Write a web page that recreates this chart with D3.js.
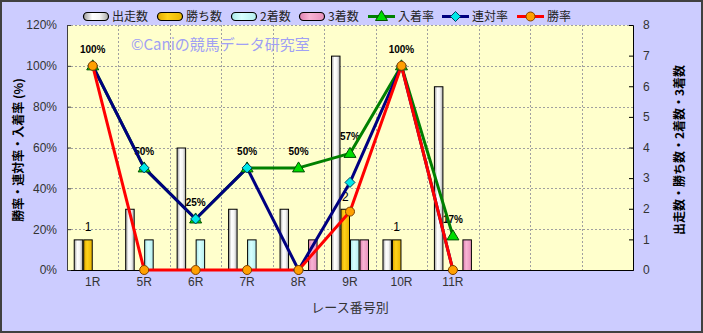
<!DOCTYPE html>
<html>
<head>
<meta charset="utf-8">
<script src="https://cdn.jsdelivr.net/npm/d3@7.9.0/dist/d3.min.js"></script>
<style>
  html, body { margin: 0; padding: 0; background: #fff; }
  svg { display: block; font-family: "Noto Sans CJK JP", "Liberation Sans", sans-serif; }
</style>
</head>
<body>
<svg id="chart" width="703" height="333"></svg>
<script>
// categories (last three slots are empty on the x axis)
const categories = ['1R', '5R', '6R', '7R', '8R', '9R', '10R', '11R', '', '', ''];

// counts (right axis)
const starts = [1, 2, 4, 2, 2, 7, 1, 6];
const wins = [1, 0, 0, 0, 0, 2, 1, 0];
const seconds = [0, 1, 1, 1, 0, 1, 0, 0];
const thirds = [0, 0, 0, 0, 1, 1, 0, 1];

// rates in % (left axis)
const placeRate = [100, 50, 25, 50, 50, 57.1, 100, 16.7];
const quinellaRate = [100, 50, 25, 50, 0, 42.9, 100, 0];
const winRate = [100, 0, 0, 0, 0, 28.6, 100, 0];

const placeLabels = ['100%', '50%', '25%', '50%', '50%', '57%', '100%', '17%'];
const winLabels = ['1', '', '', '', '', '2', '1', ''];

const leftTicks = [0, 20, 40, 60, 80, 100, 120];
const rightTicks = [0, 1, 2, 3, 4, 5, 6, 7, 8];

const W = 703, H = 333;
const plot = { left: 67, right: 633, top: 25, bottom: 270 };

const svg = d3.select('#chart');

// gradients for bars
const defs = svg.append('defs');
function grad(id, stops) {
  const g = defs.append('linearGradient').attr('id', id)
    .attr('x1', '0%').attr('x2', '100%').attr('y1', '0%').attr('y2', '0%');
  stops.forEach(([o, c]) => g.append('stop').attr('offset', o).attr('stop-color', c));
}
grad('gStarts', [['0%', '#9a9a9a'], ['35%', '#ffffff'], ['65%', '#f4f4f4'], ['100%', '#a8a8a8']]);
grad('gWins', [['0%', '#e0a800'], ['40%', '#ffd21a'], ['100%', '#e8b400']]);
grad('gSeconds', [['0%', '#a8e8e8'], ['40%', '#d8ffff'], ['100%', '#b4eeee']]);
grad('gThirds', [['0%', '#e080b0'], ['40%', '#f8b4d4'], ['100%', '#e890bc']]);

const barSeries = [
  { name: '出走数', values: starts, fill: 'url(#gStarts)' },
  { name: '勝ち数', values: wins, fill: 'url(#gWins)' },
  { name: '2着数', values: seconds, fill: 'url(#gSeconds)' },
  { name: '3着数', values: thirds, fill: 'url(#gThirds)' },
];
const lineSeries = [
  { name: '入着率', values: placeRate, color: '#008000', marker: 'triangle', mfill: '#00dd00', mstroke: '#005000' },
  { name: '連対率', values: quinellaRate, color: '#000080', marker: 'diamond', mfill: '#00e8e8', mstroke: '#004060' },
  { name: '勝率', values: winRate, color: '#ff0000', marker: 'circle', mfill: '#ffa000', mstroke: '#804000' },
];

// background + frame
svg.append('rect').attr('x', 1).attr('y', 1).attr('width', W - 2).attr('height', H - 2)
  .attr('fill', '#ccccff').attr('stroke', '#404040').attr('stroke-width', 2);

// scales
const x = d3.scaleBand().domain(d3.range(categories.length)).range([plot.left, plot.right]);
const xInner = d3.scaleBand().domain(barSeries.map((d) => d.name)).range([-19, 19]);
const yRate = d3.scaleLinear().domain([0, 120]).range([plot.bottom, plot.top]);
const yCount = d3.scaleLinear().domain([0, 8]).range([plot.bottom, plot.top]);

// plot area
svg.append('rect').attr('x', plot.left).attr('y', plot.top)
  .attr('width', plot.right - plot.left).attr('height', plot.bottom - plot.top)
  .attr('fill', '#ffffcc');

// gridlines
const grid = svg.append('g').attr('stroke', '#a0a0a0').attr('stroke-dasharray', '2,2').attr('stroke-width', 1);
leftTicks.slice(1).forEach((t) => {
  grid.append('line').attr('x1', plot.left).attr('x2', plot.right)
    .attr('y1', Math.round(yRate(t)) + 0.5).attr('y2', Math.round(yRate(t)) + 0.5);
});
d3.range(1, categories.length).forEach((i) => {
  const gx = Math.round(x(i)) + 0.5;
  grid.append('line').attr('x1', gx).attr('x2', gx).attr('y1', plot.top).attr('y2', plot.bottom);
});

// watermark
svg.append('text').attr('x', 131).attr('y', 50).attr('font-size', 15)
  .attr('fill', '#a0a0f4').text('©Caniの競馬データ研究室');

// 入着率 labels (drawn under the bars)
svg.append('g').selectAll('text').data(placeLabels).join('text')
  .attr('x', (d, i) => x(i) + x.bandwidth() / 2)
  .attr('y', (d, i) => yRate(placeRate[i]) - 13)
  .attr('text-anchor', 'middle')
  .attr('font-family', 'Liberation Sans, Arial, sans-serif')
  .attr('font-size', 10).attr('font-weight', 'bold').attr('fill', '#000')
  .text((d) => d);

// bars
barSeries.forEach((s) => {
  svg.append('g').selectAll('rect')
    .data(s.values.map((v, i) => ({ v, i })).filter((d) => d.v > 0))
    .join('rect')
    .attr('x', (d) => x(d.i) + x.bandwidth() / 2 + xInner(s.name) + 0.5)
    .attr('y', (d) => yCount(d.v) + 0.5)
    .attr('width', xInner.bandwidth() - 1)
    .attr('height', (d) => yCount(0) - yCount(d.v))
    .attr('fill', s.fill)
    .attr('stroke', '#000').attr('stroke-width', 1);
});

// 勝ち数 labels
svg.append('g').selectAll('text').data(winLabels).join('text')
  .attr('x', (d, i) => x(i) + x.bandwidth() / 2 + xInner('勝ち数') + xInner.bandwidth() / 2)
  .attr('y', (d, i) => yCount(wins[i]) - 8)
  .attr('text-anchor', 'middle').attr('font-size', 12).attr('fill', '#000')
  .attr('font-family', 'Liberation Sans, Arial, sans-serif')
  .text((d) => d);

// axes
const xAxis = svg.append('g').attr('transform', `translate(0,${plot.bottom})`)
  .call(d3.axisBottom(x).tickSize(0).tickPadding(7).tickFormat((i) => categories[i]));
xAxis.select('.domain').attr('stroke', '#000');
xAxis.selectAll('text').attr('font-size', 12).attr('fill', '#333')
  .attr('font-family', 'Liberation Sans, Arial, sans-serif');

const leftAxis = svg.append('g').attr('transform', `translate(${plot.left},0)`)
  .call(d3.axisLeft(yRate).tickValues(leftTicks).tickSize(-4).tickPadding(10).tickFormat((d) => d + '%'));
leftAxis.select('.domain').attr('stroke', '#404040');
leftAxis.selectAll('.tick line').attr('stroke', '#404040');
leftAxis.selectAll('text').attr('font-size', 12).attr('fill', '#333')
  .attr('font-family', 'Liberation Sans, Arial, sans-serif');

const rightAxis = svg.append('g').attr('transform', `translate(${plot.right},0)`)
  .call(d3.axisRight(yCount).tickValues(rightTicks).tickSize(-4).tickPadding(10));
rightAxis.select('.domain').attr('stroke', '#000');
rightAxis.selectAll('.tick line').attr('stroke', '#000');
rightAxis.selectAll('text').attr('font-size', 12).attr('fill', '#333')
  .attr('font-family', 'Liberation Sans, Arial, sans-serif');

// lines + markers
function drawMarker(g, type, cx, cy, fill, stroke) {
  if (type === 'circle') {
    g.append('circle').attr('cx', cx).attr('cy', cy).attr('r', 4.5)
      .attr('fill', fill).attr('stroke', stroke).attr('stroke-width', 1);
  } else if (type === 'diamond') {
    g.append('path').attr('d', `M${cx},${cy - 5}L${cx + 5},${cy}L${cx},${cy + 5}L${cx - 5},${cy}Z`)
      .attr('fill', fill).attr('stroke', stroke).attr('stroke-width', 1);
  } else {
    g.append('path').attr('d', `M${cx},${cy - 6}L${cx + 6},${cy + 4}L${cx - 6},${cy + 4}Z`)
      .attr('fill', fill).attr('stroke', stroke).attr('stroke-width', 1);
  }
}

const line = d3.line()
  .x((d, i) => x(i) + x.bandwidth() / 2)
  .y((d) => yRate(d));

lineSeries.forEach((s) => {
  svg.append('path').datum(s.values).attr('d', line)
    .attr('fill', 'none').attr('stroke', s.color).attr('stroke-width', 3)
    .attr('stroke-linejoin', 'round');
});
lineSeries.forEach((s) => {
  const g = svg.append('g');
  s.values.forEach((v, i) => drawMarker(g, s.marker, x(i) + x.bandwidth() / 2, yRate(v), s.mfill, s.mstroke));
});

// legend
const legend = svg.append('g').attr('font-size', 12).attr('fill', '#222');
const barLegendX = [83, 157, 231, 299];
barSeries.forEach((s, i) => {
  legend.append('rect').attr('x', barLegendX[i] + 0.5).attr('y', 12.5).attr('width', 25).attr('height', 8)
    .attr('rx', 4).attr('fill', s.fill).attr('stroke', '#000').attr('stroke-width', 1.2);
  legend.append('text').attr('x', barLegendX[i] + 29).attr('y', 21).text(s.name);
});
const lineLegendX = [368, 442, 517];
lineSeries.forEach((s, i) => {
  legend.append('line').attr('x1', lineLegendX[i]).attr('x2', lineLegendX[i] + 27)
    .attr('y1', 16.5).attr('y2', 16.5).attr('stroke', s.color).attr('stroke-width', 3);
  drawMarker(legend, s.marker, lineLegendX[i] + 13.5, 16.5, s.mfill, s.mstroke);
  legend.append('text').attr('x', lineLegendX[i] + 30).attr('y', 21).text(s.name);
});

// axis titles
svg.append('text').attr('x', 350).attr('y', 312).attr('text-anchor', 'middle')
  .attr('font-size', 13).attr('fill', '#333').text('レース番号別');
svg.append('text').attr('transform', 'translate(23,150) rotate(-90)').attr('text-anchor', 'middle')
  .attr('font-size', 12).attr('font-weight', 'bold').attr('fill', '#000').text('勝率・連対率・入着率 (%)');
svg.append('text').attr('transform', 'translate(684,150) rotate(-90)').attr('text-anchor', 'middle')
  .attr('font-size', 12).attr('font-weight', 'bold').attr('fill', '#000').text('出走数・勝ち数・2着数・3着数');
</script>
</body>
</html>
